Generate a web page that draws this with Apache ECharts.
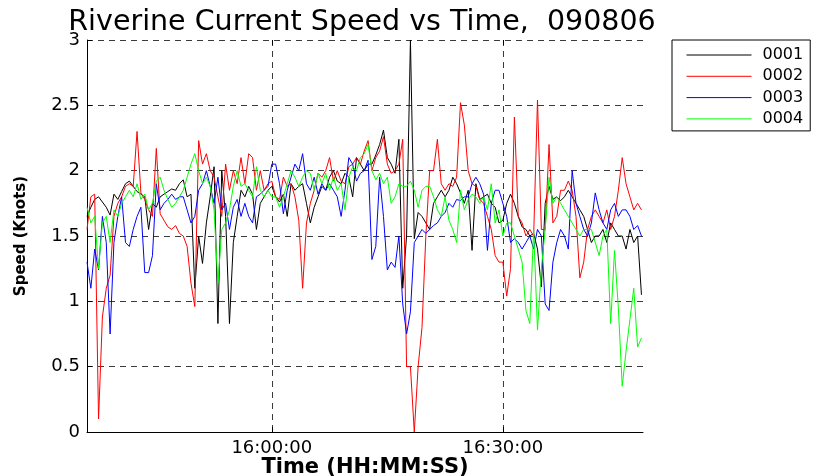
<!DOCTYPE html>
<html>
<head>
<meta charset="utf-8">
<script src="https://cdn.jsdelivr.net/npm/echarts@6/dist/echarts.min.js"></script>
<style>
  html, body { margin: 0; padding: 0; background: #fff; }
  #speed-plot { width: 818px; height: 476px; }
</style>
</head>
<body>
<div id="speed-plot"></div>
<script>
// ------------------- //
// Data: speed in knots, one sample every 30 s from 15:36:00
// time is kept as minutes relative to 16:00:00
// ------------------- //
const seriesNames = ["0001", "0002", "0003", "0004"];
const startMin = -24;
const stepMin = 0.5;
const endMin = 48.2;
const tickMinutes = [0, 30];

const speed0001 = [
  1.65, 1.72, 1.78, 1.8, 1.76, 1.72, 1.66, 1.82, 1.78, 1.84,
  1.9, 1.92, 1.88, 1.84, 1.82, 1.8, 1.55, 1.75, 1.72, 1.8,
  1.82, 1.84, 1.86, 1.85, 1.9, 1.93, 1.8, 1.82, 1.1, 1.5,
  1.29, 1.6, 1.8, 2.03, 0.83, 2.0, 1.65, 0.83, 1.45, 1.65,
  1.85, 1.8, 1.88, 1.82, 1.55, 1.75, 1.8, 1.85, 1.88, 1.8,
  1.76, 1.82, 1.65, 1.9, 1.85, 1.88, 1.9, 1.75, 1.6, 1.72,
  1.8, 1.88, 1.85, 1.95, 2.0, 1.92, 1.9, 1.98, 1.95, 1.8,
  2.1, 2.05, 2.0, 2.05, 2.05, 2.12, 2.2, 2.31, 2.1, 2.05,
  1.98, 2.24, 1.1, 1.5, 3.0, 1.48, 1.68, 1.65, 1.6, 1.55,
  1.75, 1.8, 1.85, 1.8, 1.85, 1.95, 1.9, 1.83, 1.75, 1.85,
  1.39, 1.9, 1.78, 1.8, 1.82, 1.75, 1.72, 1.6, 1.62, 1.75,
  1.82, 1.75, 1.65, 1.57, 1.55, 1.5, 1.52, 1.4, 1.11, 1.75,
  1.88, 1.78, 1.8, 1.77, 1.8, 1.85, 1.8, 1.75, 1.7, 1.65,
  1.55, 1.45, 1.5, 1.5, 1.55, 1.45, 1.6, 1.55, 1.5, 1.5,
  1.4, 1.55, 1.45, 1.5, 1.05
];
const speed0002 = [
  1.55, 1.8, 1.82, 0.1, 0.88, 1.1, 1.2, 1.65, 1.75, 1.8,
  1.88, 1.9, 1.88, 2.3, 1.83, 1.78, 1.7, 1.65, 2.17, 1.67,
  1.62, 1.57, 1.55, 1.58, 1.52, 1.5, 1.42, 1.14, 0.96, 2.23,
  2.05, 2.13, 2.0, 1.95, 1.8, 1.65, 2.05, 1.85, 2.0, 1.9,
  2.1, 1.9, 2.13, 2.1, 1.85, 2.0, 1.85, 1.9, 1.92, 1.8,
  1.78, 1.95, 1.88, 1.9, 1.8, 1.62, 1.1, 1.6, 1.75, 1.85,
  1.98, 1.95, 2.0, 2.1, 1.92, 2.0, 1.92, 1.9, 2.03, 2.05,
  2.1, 2.05, 2.15, 2.23, 2.0, 2.1, 2.15, 2.26, 2.05, 1.98,
  2.0, 2.05, 2.24, 0.5, 0.5, 0, 0.5, 0.8, 1.5, 2.0,
  2.0, 2.24, 1.9, 1.85, 1.9, 1.88, 1.95, 2.52, 2.35, 2.0,
  1.9, 1.88, 1.78, 1.75, 1.65, 1.55, 1.35, 1.3, 1.3, 1.04,
  1.25, 2.41, 1.65, 1.6, 1.5, 1.55, 1.5, 2.54, 1.55, 1.55,
  2.2, 1.6, 1.65, 1.85, 1.85, 1.92, 1.85, 1.65, 1.18, 1.3,
  1.55, 1.65, 1.7, 1.65, 1.6, 1.7, 1.55, 1.65, 1.85, 2.1,
  1.9, 1.8, 1.7, 1.75, 1.7
];
const speed0003 = [
  1.3, 1.1, 1.4, 1.24, 1.65, 1.45, 0.75, 1.45, 1.65, 1.8,
  1.45, 1.42, 1.55, 1.65, 1.72, 1.22, 1.22, 1.35, 1.9, 1.7,
  1.75, 1.78, 1.82, 1.78, 1.8, 1.8, 1.7, 1.6, 1.65, 1.85,
  1.9, 2.0, 1.88, 1.75, 1.95, 1.7, 1.75, 1.55, 1.72, 1.78,
  1.65, 1.75, 1.65, 1.6, 1.8, 1.82, 1.85, 1.88, 2.05, 2.05,
  1.9, 1.67, 1.85, 1.95, 2.05, 2.0, 2.13, 1.9, 1.85, 1.95,
  1.82, 1.9, 1.85, 1.9, 1.85, 1.8, 1.65, 1.85, 2.1, 2.05,
  1.92, 1.98, 2.0, 2.08, 1.32, 1.42, 1.95, 1.65, 1.24, 1.3,
  1.26, 1.5, 0.98, 0.75, 0.92, 1.45, 1.5, 1.55, 1.52, 1.55,
  1.58, 1.6, 1.65, 1.68, 1.75, 1.72, 1.78, 1.77, 1.8, 1.8,
  1.9, 1.95, 1.9, 1.82, 1.39, 1.75, 1.85, 1.85, 1.75, 1.65,
  1.45, 1.48, 1.45, 1.4, 1.45, 1.5, 1.4, 1.55, 1.5, 0.98,
  0.93, 1.3, 1.45, 1.55, 1.5, 1.4, 2.0, 1.75, 1.65, 1.55,
  1.5, 1.6, 1.83, 1.7, 1.6, 1.55, 1.7, 1.75, 1.65, 1.7,
  1.7, 1.65, 1.55, 1.58, 1.5
];
const speed0004 = [
  1.72, 1.6, 1.65, 1.25, 1.6, 1.65, 1.45, 1.7, 1.65, 1.75,
  1.8, 1.85, 1.8, 1.9, 1.78, 1.82, 1.7, 1.75, 1.92, 1.95,
  1.85, 1.78, 1.72, 1.75, 1.8, 1.85, 1.95, 2.05, 2.13, 2.0,
  1.9, 1.95, 1.88, 1.7, 1.14, 1.55, 1.6, 1.7, 1.88, 2.0,
  1.88, 1.9, 1.85, 1.8, 2.03, 1.85, 1.8, 1.85, 1.8, 1.8,
  1.72, 1.8, 1.9, 2.0, 1.95, 1.88, 1.95, 2.0, 1.98, 1.85,
  1.98, 1.9, 1.98, 1.85, 1.95, 1.85, 1.9, 1.7, 1.95, 2.03,
  2.0, 2.1, 2.13, 2.2, 2.0, 1.93, 1.98, 1.9, 1.95, 1.75,
  1.8, 1.9, 1.88, 1.88, 1.92, 1.85, 1.72, 1.85, 1.88, 1.88,
  1.8, 1.7, 1.65, 1.8, 1.62, 1.55, 1.45, 1.85, 1.7, 1.78,
  1.82, 1.8, 1.75, 1.8, 1.7, 1.9, 1.6, 1.7, 1.5, 1.6,
  1.6, 1.5, 1.4, 1.3, 0.93, 0.83, 1.55, 0.78, 1.25, 1.55,
  1.95, 1.75, 1.8, 1.75, 1.7, 1.65, 1.6, 1.55, 1.5, 1.55,
  1.55, 1.55, 1.45, 1.35, 1.5, 1.55, 0.83, 1.39, 0.95, 0.35,
  0.62, 0.86, 1.1, 0.65, 0.72
];

const speedAll = [speed0001, speed0002, speed0003, speed0004];
const lineColours = ["#000000", "#ff0000", "#0000ff", "#00ff00"];
const FONT = "DejaVu Sans";

// Convert minutes relative to 16:00:00 into HH:MM:SS
function minutesToClock(m) {
    const total = Math.round((16 * 60 + m) * 60);
    const hh = Math.floor(total / 3600);
    const mm = Math.floor((total % 3600) / 60);
    const ss = total % 60;
    const pad = n => String(n).padStart(2, "0");
    return pad(hh) + ":" + pad(mm) + ":" + pad(ss);
}

// Build one line series per sensor
let speedSeries = [];
for (let i = 0; i < seriesNames.length; i++) {
    speedSeries.push({
        name: seriesNames[i],
        type: "line",
        symbol: "none",
        showSymbol: false,
        lineStyle: { width: 1, color: lineColours[i] },
        itemStyle: { color: lineColours[i] },
        data: speedAll[i].map((v, j) => [startMin + j * stepMin, v])
    });
}

const plotElement = document.getElementById("speed-plot");
const speedPlot = echarts.init(plotElement);

const dashed = { type: [6, 5], color: "#3a3a3a", width: 1 };

let option = {
    animation: false,
    color: lineColours,

    // TITLE
    title: {
        text: "Riverine Current Speed vs Time,  090806",
        left: 357,
        top: 3,
        textAlign: "center",
        textStyle: { fontFamily: FONT, fontSize: 28.5, fontWeight: "normal", color: "#000" }
    },

    // GRID
    grid: { left: 87, right: 175, top: 40, bottom: 44, outerBoundsMode: "none" },

    // LEGEND (line icons only, markers hidden)
    legend: {
        data: seriesNames,
        orient: "vertical",
        left: 672,
        top: 40,
        itemWidth: 65,
        itemHeight: 12,
        itemGap: 3.3,
        padding: [6, 7, 3, 14],
        borderColor: "#000",
        borderWidth: 1,
        selectedMode: false,
        itemStyle: { opacity: 0 },
        lineStyle: { width: 1 },
        textStyle: { fontFamily: FONT, fontSize: 16, lineHeight: 18, color: "#000", padding: [0, 0, 0, 6] }
    },

    // XAXIS
    xAxis: [{
        type: "value",
        min: startMin,
        max: endMin,
        name: "Time (HH:MM:SS)",
        nameLocation: "middle",
        nameGap: 25,
        nameMoveOverlap: false,
        nameTextStyle: { fontFamily: FONT, fontSize: 21, fontWeight: "bold", color: "#000" },
        axisLine: { show: true, onZero: false, lineStyle: { color: "#000", width: 1 } },
        axisTick: { show: true, inside: true, length: 5, customValues: tickMinutes, lineStyle: { color: "#000" } },
        axisLabel: { customValues: tickMinutes, formatter: minutesToClock, fontFamily: FONT, fontSize: 18, color: "#000", margin: 7 },
        splitLine: { show: true, lineStyle: dashed }
    }, {
        type: "value",
        position: "top",
        min: startMin,
        max: endMin,
        axisLine: { show: false, onZero: false },
        axisTick: { show: true, inside: true, length: 5, customValues: tickMinutes, lineStyle: { color: "#000" } },
        axisLabel: { show: false },
        splitLine: { show: false }
    }],

    // YAXIS
    yAxis: {
        type: "value",
        min: 0,
        max: 3,
        interval: 0.5,
        name: "Speed (Knots)",
        nameLocation: "middle",
        nameRotate: 90,
        nameGap: 58,
        nameMoveOverlap: false,
        nameTextStyle: { fontFamily: FONT, fontSize: 15, fontWeight: "bold", color: "#000" },
        axisLine: { show: true, onZero: false, lineStyle: { color: "#000", width: 1 } },
        axisTick: { show: true, inside: true, length: 5, lineStyle: { color: "#000" } },
        axisLabel: { fontFamily: FONT, fontSize: 18, color: "#000", margin: 7 },
        splitLine: { show: true, lineStyle: dashed }
    },

    series: speedSeries
};

speedPlot.setOption(option);
</script>
</body>
</html>
